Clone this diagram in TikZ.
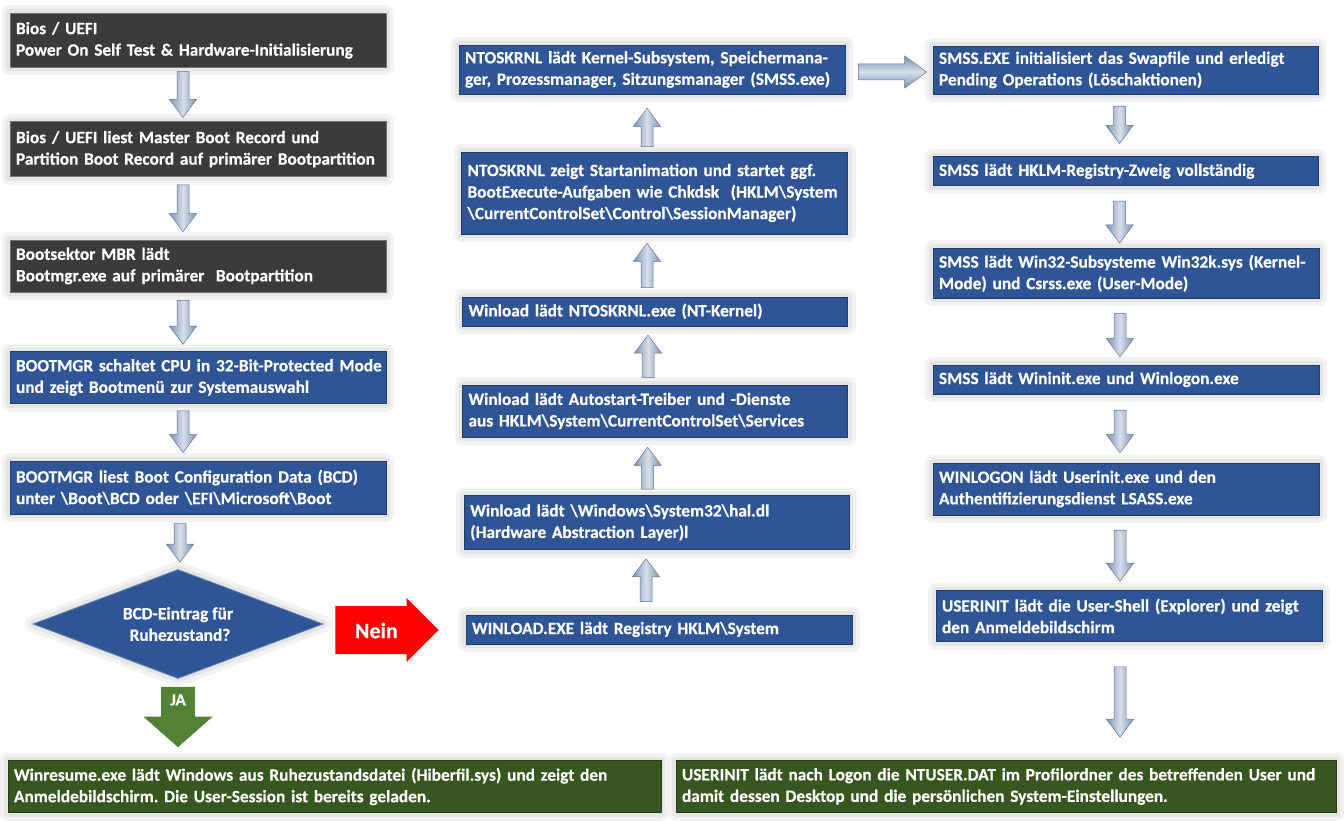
\documentclass[tikz,border=0pt]{standalone}
\usepackage{fontspec}
\setmainfont{Carlito}[BoldFeatures={FakeBold=0.35}]
\usetikzlibrary{calc,shapes.geometric}
\definecolor{boxgray}{HTML}{3B3B3B}
\definecolor{boxblue}{HTML}{2F5597}
\definecolor{boxgreen}{HTML}{38561F}
\definecolor{arrA}{HTML}{7F93B1}
\definecolor{arrB}{HTML}{D6DEEA}
\definecolor{arrLine}{HTML}{5E7391}
\definecolor{jagreen}{HTML}{548235}
\definecolor{neinred}{HTML}{FF0000}
\newcommand\bksl{\textbackslash}
\frenchspacing
\tikzset{
 glow/.style={preaction={draw=black!5,line width=16pt,line join=round},
              preaction={draw=black!10,line width=8pt,line join=round}},
 box/.style={rectangle, glow, inner xsep=6pt, inner ysep=0pt, text=white,
   font=\bfseries\fontsize{17.3}{21.5}\selectfont, align=left},
 gbox/.style={box, fill=boxgray, draw=black!55, line width=0.6pt},
 bbox/.style={box, fill=boxblue, draw=boxblue!70!black, line width=0.6pt},
 grbox/.style={box, fill=boxgreen, draw=boxgreen!70!black, line width=0.6pt},
 varrow/.style={draw=arrLine, line width=0.5pt, left color=arrA, right color=arrA, middle color=arrB},
 harrow/.style={draw=arrLine, line width=0.5pt, top color=arrA, bottom color=arrA, middle color=arrB},
}
% down arrow: from anchor #1, to anchor #2, x shift #3, top gap #4, bottom gap #5
\newcommand\downarr[5]{%
 \path[varrow] let \p1=($(#1)+(#3,0)$), \p2=(#2) in
  (\x1-6pt,\y1-#4pt) -- (\x1+6pt,\y1-#4pt) -- (\x1+6pt,\y2+#5pt+18pt) -- (\x1+13.5pt,\y2+#5pt+18pt)
  -- (\x1,\y2+#5pt) -- (\x1-13.5pt,\y2+#5pt+18pt) -- (\x1-6pt,\y2+#5pt+18pt) -- cycle;}
% up arrow: from (lower) anchor #1, to (upper) anchor #2, x shift #3, bottom gap #4, top gap #5
\newcommand\uparr[5]{%
 \path[varrow] let \p1=($(#1)+(#3,0)$), \p2=(#2) in
  (\x1-6pt,\y1+#4pt) -- (\x1+6pt,\y1+#4pt) -- (\x1+6pt,\y2-#5pt-18pt) -- (\x1+13.5pt,\y2-#5pt-18pt)
  -- (\x1,\y2-#5pt) -- (\x1-13.5pt,\y2-#5pt-18pt) -- (\x1-6pt,\y2-#5pt-18pt) -- cycle;}
\begin{document}
\begin{tikzpicture}[x=1pt,y=-1pt]
\useasboundingbox (0,0) rectangle (1344,821);
\fill[white] (0,0) rectangle (1344,821);

% left column
\node[gbox, minimum width=376, text width=364, minimum height=54] (L1) at (198,40.3)
  {Bios / UEFI\\Power On Self Test \& Hardware-Initialisierung};
\node[gbox, minimum width=376, text width=364, minimum height=55] (L2) at (198,149.2)
  {Bios / UEFI liest Master Boot Record und\\Partition Boot Record auf primärer Bootpartition};
\node[gbox, minimum width=376, text width=364, minimum height=52] (L3) at (198,266)
  {Bootsektor MBR lädt\\Bootmgr.exe auf primärer\ \ Bootpartition};
\node[bbox, minimum width=376, text width=364, minimum height=52] (L4) at (198,377.5)
  {\mbox{BOOTMGR schaltet CPU in 32-Bit-Protected Mode}\\und zeigt Bootmenü zur Systemauswahl};
\node[bbox, minimum width=376, text width=364, minimum height=53] (L5) at (198,487.3)
  {BOOTMGR liest Boot Configuration Data (BCD)\\unter \bksl Boot\bksl BCD oder \bksl EFI\bksl Microsoft\bksl Boot};
\node[diamond, aspect=2.66, glow, fill=boxblue, draw=boxblue!75!white, line width=0.8pt, minimum width=290, minimum height=109,
  inner sep=0pt, text=white, align=center, font=\bfseries\fontsize{17.3}{21.5}\selectfont] (D) at (178,624)
  {BCD-Eintrag für\\\ Ruhezustand?};

% middle column
\node[bbox, minimum width=386, text width=374, minimum height=49] (M1) at (652,69.5)
  {NTOSKRNL lädt Kernel-Subsystem, Speichermana-\\ger, Prozessmanager, Sitzungsmanager (SMSS.exe)};
\node[bbox, minimum width=386, text width=374, minimum height=82] (M2) at (654.5,193)
  {NTOSKRNL zeigt Startanimation und startet ggf.\\BootExecute-Aufgaben wie Chkdsk\ \ (HKLM\bksl System\\\bksl CurrentControlSet\bksl Control\bksl SessionManager)};
\node[bbox, minimum width=385, text width=373, minimum height=29] (M3) at (655,311.3)
  {Winload lädt NTOSKRNL.exe (NT-Kernel)};
\node[bbox, minimum width=385, text width=373, minimum height=52] (M4) at (655,411)
  {Winload lädt Autostart-Treiber und -Dienste\\aus HKLM\bksl System\bksl CurrentControlSet\bksl Services};
\node[bbox, minimum width=385, text width=373, minimum height=54] (M5) at (656.7,522.5)
  {Winload lädt \bksl Windows\bksl System32\bksl hal.dl\\(Hardware Abstraction Layer)l};
\node[bbox, minimum width=386, text width=374, minimum height=29] (M6) at (659,629.5)
  {WINLOAD.EXE lädt Registry HKLM\bksl System};

% right column
\node[bbox, minimum width=385, text width=373, minimum height=48] (R1) at (1125.5,70)
  {SMSS.EXE initialisiert das Swapfile und erledigt\\Pending Operations (Löschaktionen)};
\node[bbox, minimum width=385, text width=373, minimum height=29] (R2) at (1125.5,171.3)
  {SMSS lädt HKLM-Registry-Zweig vollständig};
\node[bbox, minimum width=386, text width=374, minimum height=50] (R3) at (1126,273.3)
  {SMSS lädt Win32-Subsysteme Win32k.sys (Kernel-\\Mode) und Csrss.exe (User-Mode)};
\node[bbox, minimum width=386, text width=374, minimum height=29] (R4) at (1126,379.5)
  {SMSS lädt Wininit.exe und Winlogon.exe};
\node[bbox, minimum width=386, text width=374, minimum height=52] (R5) at (1126,489)
  {WINLOGON lädt Userinit.exe und den\\Authentifizierungsdienst LSASS.exe};
\node[bbox, minimum width=386, text width=374, minimum height=51] (R6) at (1129,616)
  {USERINIT lädt die User-Shell (Explorer) und zeigt\\den Anmeldebildschirm};

% bottom boxes
\node[grbox, minimum width=653, text width=641, minimum height=52] (B1) at (334.5,786.5)
  {Winresume.exe lädt Windows aus Ruhezustandsdatei (Hiberfil.sys) und zeigt den\\Anmeldebildschirm. Die User-Session ist bereits geladen.};
\node[grbox, minimum width=660, text width=648, minimum height=52] (B2) at (1006,786.5)
  {USERINIT lädt nach Logon die NTUSER.DAT im Profilordner des betreffenden User und\\damit dessen Desktop und die persönlichen System-Einstellungen.};

% left column arrows
\downarr{L1.south}{L2.north}{-15}{4}{4}
\downarr{L2.south}{L3.north}{-15}{8}{8}
\downarr{L3.south}{L4.north}{-15}{8}{7}
\downarr{L4.south}{L5.north}{-15}{7}{8}
\downarr{L5.south}{D.north}{-18}{9}{7}

% middle column arrows (upwards)
\uparr{M6.north}{M5.south}{-13}{13}{9}
\uparr{M5.north}{M4.south}{-9}{6}{10}
\uparr{M4.north}{M3.south}{-7}{7}{9}
\uparr{M3.north}{M2.south}{-8}{9}{9}
\uparr{M2.north}{M1.south}{-7.5}{5}{14}

% horizontal arrow M1 -> R1
\path[harrow] let \p1=(M1.east), \p2=(R1.west) in
  (\x1+13pt,\y1+5.5pt) -- (\x2-28pt,\y1+5.5pt) -- (\x2-28pt,\y1+13.5pt) -- (\x2-6pt,\y1-2.5pt)
  -- (\x2-28pt,\y1-18.5pt) -- (\x2-28pt,\y1-10.5pt) -- (\x1+13pt,\y1-10.5pt) -- cycle;

% right column arrows
\downarr{R1.south}{R2.north}{-6}{12}{13}
\downarr{R2.south}{R3.north}{-6}{15}{5}
\downarr{R3.south}{R4.north}{-6}{15}{8}
\downarr{R4.south}{R5.north}{-6}{16}{10}
\downarr{R5.south}{R6.north}{-6}{15}{9}
\downarr{R6.south}{B2.north}{-9}{25}{23}

% Nein arrow
\path[fill=neinred] let \p1=(D.east), \p2=(M6.west) in
  (\x1+12pt,\y2+23.5pt) -- (\x2-59pt,\y2+23.5pt) -- (\x2-59pt,\y2+31.5pt) -- (\x2-27pt,\y2-0.5pt)
  -- (\x2-59pt,\y2-32.5pt) -- (\x2-59pt,\y2-24.5pt) -- (\x1+12pt,\y2-24.5pt) -- cycle
  (\x1+53pt,\y2-1pt) node[text=white, font=\bfseries\fontsize{22}{26}\selectfont] (nein) {Nein};

% JA arrow
\path[fill=jagreen] let \p1=(D.south), \p2=(B1.north) in
  (\x1-17pt,\y1-8pt) -- (\x1+17pt,\y1-8pt) -- (\x1+17pt,\y2+43.5pt) -- (\x1+34.5pt,\y2+43.5pt)
  -- (\x1,\y2+13pt) -- (\x1-34.5pt,\y2+43.5pt) -- (\x1-17pt,\y2+43.5pt) -- cycle
  (\x1,\y1-21pt) node[text=white, font=\bfseries\fontsize{17}{20}\selectfont] (ja) {JA};
\end{tikzpicture}
\end{document}
